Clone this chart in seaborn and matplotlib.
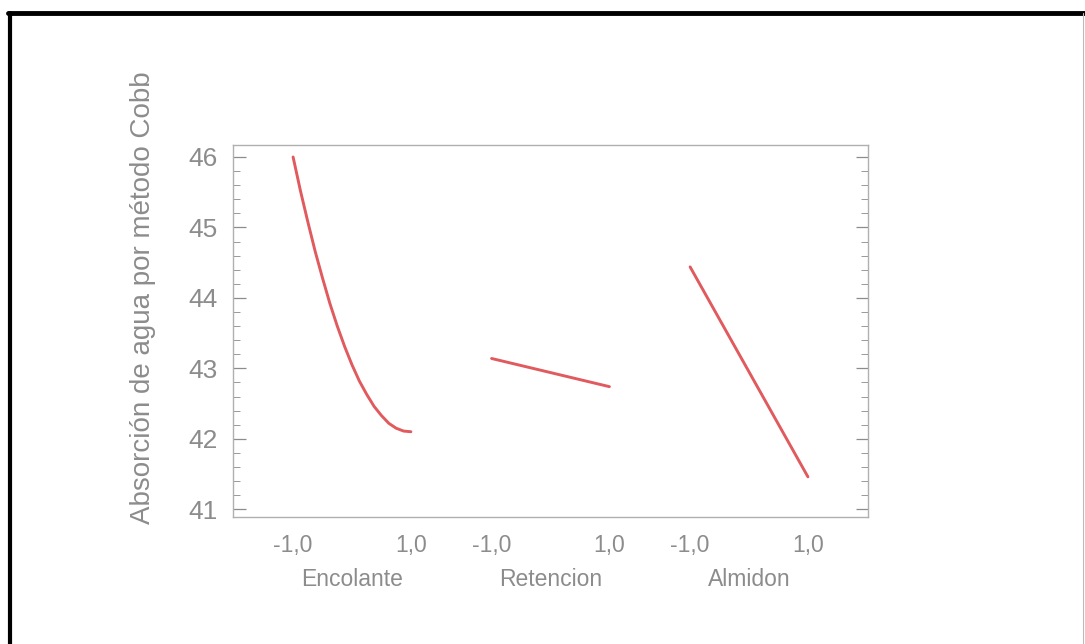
import numpy as np
import pandas as pd
import matplotlib
matplotlib.use("Agg")
import matplotlib.pyplot as plt
from matplotlib.lines import Line2D
from matplotlib.ticker import MultipleLocator
import seaborn as sns

# ---- data ----
factors = ["Encolante", "Retencion", "Almidon"]
encolante_levels = [-1.0, -0.875, -0.75, -0.625, -0.5, -0.375, -0.25, -0.125, 0.0,
                    0.125, 0.25, 0.375, 0.5, 0.625, 0.75, 0.875, 1.0]
encolante_values = [46.0, 45.52, 45.08, 44.66, 44.28, 43.92, 43.6, 43.31, 43.05,
                    42.82, 42.63, 42.46, 42.33, 42.22, 42.15, 42.11, 42.1]
retencion_levels = [-1.0, 1.0]
retencion_values = [43.14, 42.74]
almidon_levels = [-1.0, 1.0]
almidon_values = [44.44, 41.46]
tick_labels = ["-1,0", "1,0"]
y_label = "Absorción de agua por método Cobb"

# ---- layout ----
spacing = 3.37
gray = "#8c8c8c"
red = "#e05a5e"

rows = []
for i, (name, lv, vals) in enumerate(zip(
        factors,
        [encolante_levels, retencion_levels, almidon_levels],
        [encolante_values, retencion_values, almidon_values])):
    for l, v in zip(lv, vals):
        rows.append({"factor": name, "x": i * spacing + l, "value": v})
df = pd.DataFrame(rows)

sns.set_theme(style="white")
plt.rcParams["font.family"] = ["Liberation Sans", "DejaVu Sans"]

fig = plt.figure(figsize=(10.85, 6.44), dpi=100)
ax = fig.add_axes([233 / 1085, 1 - 517 / 644, 635 / 1085, 372 / 644])

sns.lineplot(data=df, x="x", y="value", hue="factor",
             palette={f: red for f in factors}, estimator=None,
             sort=True, legend=False, linewidth=2.1, ax=ax)
for ln in ax.lines:
    ln.set_solid_capstyle("round")
    ln.set_solid_joinstyle("round")

ax.set_xlim(-2.02, 2 * spacing + 2.02)
ax.set_ylim(40.89, 46.17)

xt = []
xl = []
for i in range(len(factors)):
    xt += [i * spacing - 1, i * spacing + 1]
    xl += tick_labels
ax.set_xticks(xt)
ax.set_xticklabels(xl)
ax.tick_params(axis="x", length=0, pad=12, labelsize=16.5, colors=gray)

ax.yaxis.set_major_locator(MultipleLocator(1))
ax.yaxis.set_minor_locator(MultipleLocator(0.2))
ax.tick_params(axis="y", which="major", direction="in", length=9, width=0.9,
               left=True, right=True, pad=11, labelsize=19, colors=gray)
ax.tick_params(axis="y", which="minor", direction="in", length=5, width=0.7,
               left=True, right=True, colors="#999999")
ax.set_xlabel("")
ax.set_ylabel("")

for s in ax.spines.values():
    s.set_color("#b0b0b0")
    s.set_linewidth(1.0)

# factor names under each segment
for i, name in enumerate(factors):
    ax.text(i * spacing, -0.136, name, transform=ax.get_xaxis_transform(),
            ha="center", va="top", fontsize=16.5, color=gray)

fig.text(143 / 1085, 1 - 298 / 644, y_label, rotation=90, ha="center",
         va="center", fontsize=20, color=gray)

# scanned page border
fig.add_artist(Line2D([8 / 1085, 1.0], [1 - 13 / 644, 1 - 13 / 644],
                      transform=fig.transFigure, color="black", lw=3.5))
fig.add_artist(Line2D([10 / 1085, 10 / 1085], [0.0, 1 - 13 / 644],
                      transform=fig.transFigure, color="black", lw=3.0))
fig.add_artist(Line2D([1083 / 1085, 1083 / 1085], [0.0, 1 - 13 / 644],
                      transform=fig.transFigure, color="#bbbbbb", lw=0.8))

fig.savefig("out.png", dpi=100)
